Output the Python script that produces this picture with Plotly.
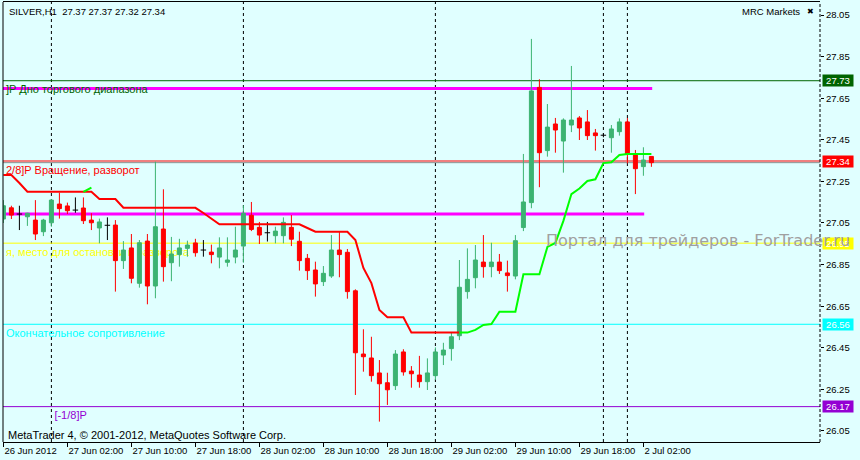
import plotly.graph_objects as go

# ---------------- data ----------------
symbol_title = "SILVER,H1  27.37 27.37 27.32 27.34"

opens = [
    27.069, 27.123, 27.093, 27.080, 27.064, 27.008, 27.051, 27.141, 27.132, 27.112,
    27.122, 27.064, 27.026, 27.039, 27.040, 26.869, 26.930, 26.760, 26.963, 26.747,
    27.021, 26.859, 26.898, 26.928, 26.954, 26.920, 26.910, 26.886, 26.861, 26.886,
    26.939, 27.087, 27.029, 27.003, 26.989, 26.989, 27.029, 26.962, 26.880, 26.824,
    26.768, 26.795, 26.920, 26.909, 26.724, 26.420, 26.401, 26.329, 26.282, 26.268,
    26.430, 26.338, 26.319, 26.287, 26.316, 26.415, 26.446, 26.508, 26.720, 26.787,
    26.862, 26.840, 26.862, 26.810, 26.795, 27.028, 27.148, 27.702, 27.398, 27.526,
    27.444, 27.521, 27.555, 27.536, 27.483, 27.472, 27.460, 27.489, 27.536, 27.382,
    27.321, 27.370]
highs = [
    27.160, 27.133, 27.133, 27.099, 27.160, 27.070, 27.165, 27.196, 27.148, 27.173,
    27.173, 27.097, 27.071, 27.077, 27.064, 26.963, 26.997, 26.968, 26.997, 27.345,
    27.212, 26.983, 26.974, 26.965, 26.974, 26.968, 26.946, 26.981, 26.981, 27.032,
    27.135, 27.151, 27.055, 27.055, 27.032, 27.077, 27.088, 27.008, 26.901, 26.864,
    26.843, 26.992, 27.008, 26.925, 26.731, 26.539, 26.503, 26.391, 26.330, 26.439,
    26.443, 26.362, 26.411, 26.399, 26.452, 26.474, 26.523, 26.872, 26.928, 26.944,
    26.992, 26.955, 26.901, 26.869, 26.992, 27.382, 27.935, 27.741, 27.622, 27.555,
    27.553, 27.805, 27.564, 27.593, 27.502, 27.481, 27.521, 27.553, 27.555, 27.401,
    27.414, 27.370]
lows = [
    27.050, 27.069, 27.016, 27.036, 26.968, 26.987, 27.032, 27.071, 27.093, 27.099,
    27.045, 27.016, 26.952, 26.968, 26.720, 26.829, 26.760, 26.739, 26.659, 26.688,
    26.768, 26.770, 26.840, 26.888, 26.888, 26.888, 26.856, 26.832, 26.840, 26.856,
    26.859, 27.011, 26.949, 26.961, 26.952, 26.952, 26.939, 26.821, 26.776, 26.696,
    26.747, 26.786, 26.789, 26.686, 26.223, 26.335, 26.287, 26.095, 26.175, 26.247,
    26.316, 26.258, 26.258, 26.247, 26.295, 26.367, 26.388, 26.487, 26.686, 26.736,
    26.787, 26.789, 26.805, 26.720, 26.779, 27.011, 27.121, 27.222, 27.369, 27.388,
    27.292, 27.487, 27.449, 27.449, 27.398, 27.462, 27.388, 27.470, 27.337, 27.189,
    27.277, 27.320]
closes = [
    27.133, 27.088, 27.093, 27.097, 26.997, 27.064, 27.160, 27.119, 27.109, 27.112,
    27.061, 27.051, 27.055, 27.039, 26.869, 26.920, 26.784, 26.955, 26.747, 27.032,
    26.840, 26.901, 26.930, 26.944, 26.907, 26.920, 26.898, 26.930, 26.872, 26.920,
    27.097, 27.019, 26.992, 27.003, 27.011, 27.053, 26.972, 26.869, 26.821, 26.757,
    26.808, 26.920, 26.898, 26.720, 26.426, 26.407, 26.316, 26.277, 26.248, 26.420,
    26.334, 26.325, 26.287, 26.329, 26.430, 26.439, 26.503, 26.741, 26.779, 26.872,
    26.840, 26.862, 26.821, 26.797, 26.965, 27.151, 27.685, 27.388, 27.511, 27.497,
    27.545, 27.545, 27.507, 27.470, 27.470, 27.472, 27.502, 27.536, 27.380, 27.311,
    27.353, 27.340]

# trailing-stop indicator (down trend = red, up trend = green)
red_stop = [
    27.281, 27.281, 27.242, 27.200, 27.200, 27.200, 27.200, 27.200, 27.200, 27.200,
    27.200, 27.200, 27.165, 27.165, 27.165, 27.123, 27.123, 27.123, 27.123, 27.123,
    27.123, 27.123, 27.123, 27.123, 27.123, 27.098, 27.069, 27.044, 27.044, 27.044,
    27.044, 27.044, 27.044, 27.044, 27.044, 27.044, 27.044, 27.044, 27.026, 27.008,
    27.008, 27.008, 27.008, 27.008, 26.968, 26.834, 26.761, 26.632, 26.597, 26.597,
    26.597, 26.523, 26.523, 26.523, 26.523, 26.523, 26.523, 26.523, None, None,
    None, None, None, None, None, None, None, None, None, None,
    None, None, None, None, None, None, None, None, None, None,
    None, None]
green_stop = [
    None, None, None, None, None, None, None, None, None, None,
    27.200, 27.220, None, None, None, None, None, None, None, None,
    None, None, None, None, None, None, None, None, None, None,
    None, None, None, None, None, None, None, None, None, None,
    None, None, None, None, None, None, None, None, None, None,
    None, None, None, None, None, None, None, 26.523, 26.523, 26.536,
    26.560, 26.564, 26.623, 26.623, 26.623, 26.803, 26.803, 26.803, 26.935, 26.954,
    27.060, 27.189, 27.216, 27.252, 27.260, 27.338, 27.342, 27.377, 27.382, 27.382,
    27.382, 27.382]

# time axis (bar numbers of the labelled bars) and labels
tick_bars = [0, 8, 16, 24, 32, 40, 48, 56, 64, 72, 80]
tick_labels = ["26 Jun 2012", "27 Jun 02:00", "27 Jun 10:00", "27 Jun 18:00",
               "28 Jun 02:00", "28 Jun 10:00", "28 Jun 18:00", "29 Jun 02:00",
               "29 Jun 10:00", "29 Jun 18:00", "2 Jul 02:00"]
separator_bars = [6, 30, 54, 75, 78]

price_ticks = [26.05, 26.25, 26.45, 26.65, 26.85, 27.05, 27.25, 27.45, 27.65, 27.85, 28.05]

# Murrey-style levels
level_prices = [27.734, 27.348, 26.953, 26.563, 26.167]
level_labels = ["27.73", "27.34", "26.95", "26.56", "26.17"]
level_colors = ["#006400", "#FF0000", "#FFFF00", "#00FFFF", "#9400D3"]
level_texts = ["]P Дно торгового диапазона", "2/8]P Вращение, разворот",
               "я, место для остановки и разворота", "Окончательное сопротивление",
               "[-1/8]P"]
level_text_bar = [None, None, None, None, 6]

bid_price = 27.34

zone_prices = [27.697, 27.093]
zone_end_bar = [81.1, 80.1]

UP = "#3CB371"
DOWN = "#FF0000"
BG = "#E0FFFF"
FONT = "Liberation Sans, Arial, sans-serif"

n = len(opens)
bars = list(range(n))
X0, X1 = -0.05, 102.075
Y0, Y1 = 25.997, 28.1125

fig = go.Figure()

# candles (non-doji)
body = [i for i in bars if opens[i] != closes[i]]
fig.add_trace(go.Candlestick(
    x=body,
    open=[opens[i] for i in body], high=[highs[i] for i in body],
    low=[lows[i] for i in body], close=[closes[i] for i in body],
    increasing=dict(line=dict(color=UP, width=1), fillcolor=UP),
    decreasing=dict(line=dict(color=DOWN, width=1), fillcolor=DOWN),
    whiskerwidth=0, hoverinfo="skip", showlegend=False))

# doji crosses
dx, dy = [], []
for i in bars:
    if opens[i] == closes[i]:
        dx += [i, i, None, i - 0.34, i + 0.34, None]
        dy += [lows[i], highs[i], None, opens[i], opens[i], None]
fig.add_trace(go.Scatter(x=dx, y=dy, mode="lines", line=dict(color="black", width=1),
                         hoverinfo="skip", showlegend=False))

# trailing stop lines
fig.add_trace(go.Scatter(x=bars, y=red_stop, mode="lines", line=dict(color="#FF0000", width=2),
                         connectgaps=False, hoverinfo="skip", showlegend=False))
fig.add_trace(go.Scatter(x=bars, y=green_stop, mode="lines", line=dict(color="#00FF00", width=2),
                         connectgaps=False, hoverinfo="skip", showlegend=False))

shapes = []
# period separators
for b in separator_bars:
    shapes.append(dict(type="line", xref="x", yref="paper", x0=b, x1=b, y0=0, y1=1,
                       line=dict(color="black", width=1, dash="3px,3px"), layer="below"))
# level lines
for p, c in zip(level_prices, level_colors):
    shapes.append(dict(type="line", xref="paper", yref="y", x0=0, x1=1, y0=p, y1=p,
                       line=dict(color=c, width=1), layer="below"))
shapes.append(dict(type="line", xref="paper", yref="y", x0=0, x1=1, y0=bid_price, y1=bid_price,
                   line=dict(color="#8C8C8C", width=1), layer="below"))
# magenta zone lines
for p, e in zip(zone_prices, zone_end_bar):
    shapes.append(dict(type="line", xref="x", yref="y", x0=X0, x1=e, y0=p, y1=p,
                       line=dict(color="#FF00FF", width=3), layer="below"))
# level texts (under the candles, over the level lines)
off = 7.5 / 208.0
for p, t, c, sb in zip(level_prices, level_texts, level_colors, level_text_bar):
    xs = X0 if sb is None else sb
    shapes.append(dict(type="rect", xref="x", yref="y", x0=xs, x1=xs + 60,
                       y0=p - off - 0.02, y1=p - off + 0.02,
                       line=dict(width=0), fillcolor="rgba(0,0,0,0)", layer="below",
                       label=dict(text=t, textposition="middle left", padding=0,
                                  font=dict(family=FONT, size=11, color=c))))
# borders
shapes.append(dict(type="line", xref="paper", yref="paper", x0=1, x1=1, y0=0, y1=1,
                   line=dict(color="black", width=1, dash="3px,2px"), layer="above"))
shapes.append(dict(type="line", xref="paper", yref="paper", x0=0, x1=0, y0=0, y1=1,
                   line=dict(color="black", width=1), layer="above"))

annotations = []
for p, lab, c in zip(level_prices, level_labels, level_colors):
    annotations.append(dict(xref="paper", yref="y", x=1, y=p, xanchor="left", yanchor="middle",
                            xshift=2, text=lab, showarrow=False, bgcolor=c, width=30, height=11,
                            borderpad=0, align="center",
                            font=dict(family=FONT, size=9.5, color="white")))
annotations.append(dict(xref="paper", yref="paper", x=0.0049, y=0.9795, xanchor="left",
                        yanchor="middle", text=symbol_title, showarrow=False,
                        font=dict(family=FONT, size=9.5, color="black")))
annotations.append(dict(xref="paper", yref="paper", x=0.978, y=0.9773, xanchor="right",
                        yanchor="middle", text="MRC Markets", showarrow=False,
                        font=dict(family=FONT, size=9.5, color="black")))
annotations.append(dict(xref="paper", yref="paper", x=0.9878, y=0.9773, xanchor="center",
                        yanchor="middle", text="✖", showarrow=False,
                        font=dict(family="DejaVu Sans", size=8, color="black")))
annotations.append(dict(xref="paper", yref="paper", x=0.0037, y=0.0159, xanchor="left",
                        yanchor="middle", text="MetaTrader 4, © 2001-2012, MetaQuotes Software Corp.",
                        showarrow=False, font=dict(family=FONT, size=11, color="black")))
annotations.append(dict(xref="paper", yref="y", x=0.6622, y=26.968, xanchor="left",
                        yanchor="middle", text="Портал для трейдеров - ForTrader.ru",
                        showarrow=False, font=dict(family="DejaVu Sans", size=16, color="#A0A0A0")))

fig.update_layout(
    width=860, height=460, template="none",
    margin=dict(l=3, r=40, t=2, b=18, pad=0),
    paper_bgcolor=BG, plot_bgcolor=BG, showlegend=False,
    boxgap=0.5, boxgroupgap=0,
    font=dict(family=FONT, size=9.5, color="black"),
    xaxis=dict(range=[X0, X1], tickmode="array", tickvals=tick_bars, ticktext=tick_labels,
               ticks="outside", ticklen=4, tickcolor="black", tickwidth=1,
               ticklabelposition="outside right", showgrid=False, zeroline=False,
               showline=True, linecolor="black", linewidth=1, mirror=True,
               rangeslider=dict(visible=False), automargin=False, fixedrange=True),
    yaxis=dict(range=[Y0, Y1], side="right", tickmode="array", tickvals=price_ticks,
               ticktext=[f"{v:.2f}" for v in price_ticks], ticks="outside", ticklen=3,
               tickcolor="black", showgrid=False, zeroline=False, showline=False,
               automargin=False, fixedrange=True),
    shapes=shapes, annotations=annotations,
)

fig.write_html("out.html", config={"displayModeBar": False},
               post_script="document.body.style.margin='0px';document.body.style.background='#E0FFFF';")
